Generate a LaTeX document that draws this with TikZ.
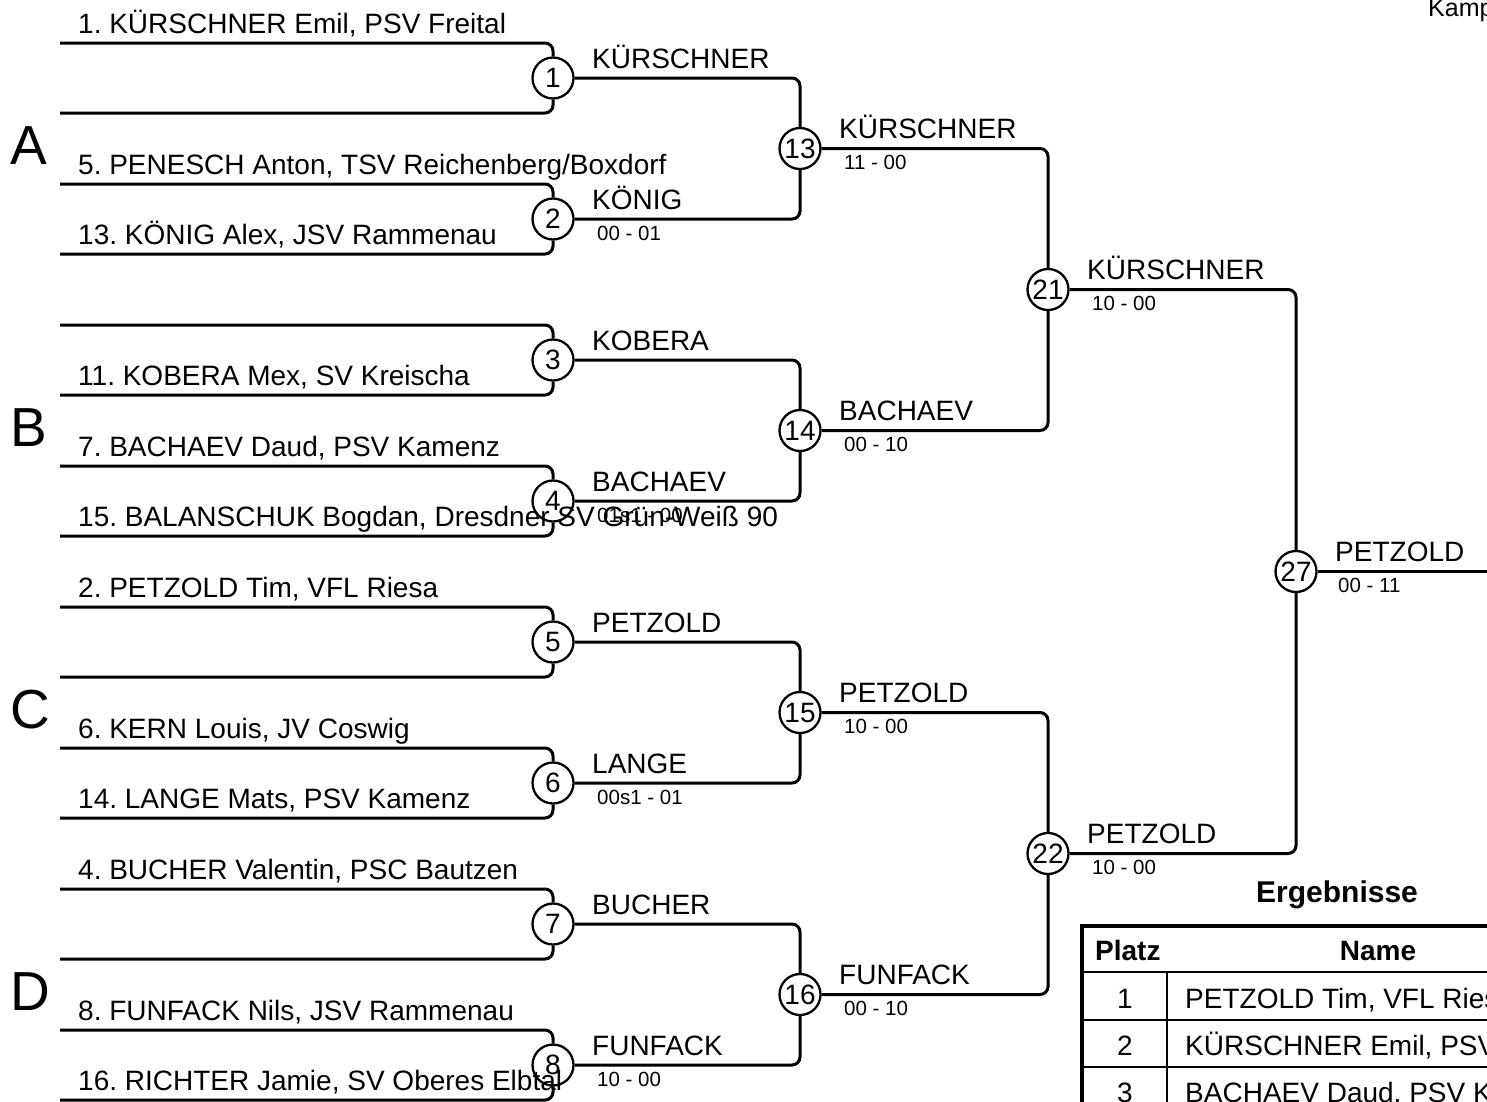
\documentclass[tikz,border=0pt]{standalone}
\usepackage{fontspec}
\setmainfont{Liberation Sans}
\newcommand{\myfs}[1]{\fontsize{#1}{#1}\selectfont}
\frenchspacing
\begin{document}
\begin{tikzpicture}[x=1pt,y=-1pt,
  conn/.style={line width=3pt, rounded corners=8pt},
  bout/.style={circle, draw, line width=2.3pt, minimum size=41pt, inner sep=0pt, font=\myfs{28}},
  pname/.style={anchor=base west, inner sep=0pt, font=\myfs{28}},
  score/.style={anchor=base west, inner sep=0pt, font=\myfs{20.5}},
  grp/.style={anchor=base west, inner sep=0pt, font=\myfs{55}},
  thead/.style={anchor=base, inner sep=0pt, font=\myfs{28}\bfseries},
  tcell/.style={anchor=base west, inner sep=0pt, font=\myfs{28}},
  tnum/.style={anchor=base, inner sep=0pt, font=\myfs{28}},
  thick border/.style={line width=4.5pt},
  thin rule/.style={line width=2pt},
]
\useasboundingbox (0,0) rectangle (1487,1101);
\clip (0,0) rectangle (1487,1101);

% ---- bout circles ----
\node[bout] (m1) at (553,78) {1};
\node[bout] (m2) at (553,219) {2};
\node[bout] (m3) at (553,360) {3};
\node[bout] (m4) at (553,501) {4};
\node[bout] (m5) at (553,642) {5};
\node[bout] (m6) at (553,783) {6};
\node[bout] (m7) at (553,924) {7};
\node[bout] (m8) at (553,1065) {8};
\node[bout] (m13) at (800,148.5) {13};
\node[bout] (m14) at (800,430.5) {14};
\node[bout] (m15) at (800,712.5) {15};
\node[bout] (m16) at (800,994.5) {16};
\node[bout] (m21) at (1048,289.5) {21};
\node[bout] (m22) at (1048,853.5) {22};
\node[bout] (m27) at (1296,571.5) {27};

% ---- player line starts ----
\coordinate (p1a) at (60,43);   \coordinate (p1b) at (60,113);
\coordinate (p2a) at (60,184);  \coordinate (p2b) at (60,254);
\coordinate (p3a) at (60,325);  \coordinate (p3b) at (60,395);
\coordinate (p4a) at (60,466);  \coordinate (p4b) at (60,536);
\coordinate (p5a) at (60,607);  \coordinate (p5b) at (60,677);
\coordinate (p6a) at (60,748);  \coordinate (p6b) at (60,818);
\coordinate (p7a) at (60,889);  \coordinate (p7b) at (60,959);
\coordinate (p8a) at (60,1030); \coordinate (p8b) at (60,1100);
\coordinate (fin) at (1495,571.5);

\foreach \k in {1,...,8}{
  \draw[conn] (p\k a) -| (m\k.north);
  \draw[conn] (p\k b) -| (m\k.south);
}
\draw[conn] (m1.east) -| (m13.north);
\draw[conn] (m2.east) -| (m13.south);
\draw[conn] (m3.east) -| (m14.north);
\draw[conn] (m4.east) -| (m14.south);
\draw[conn] (m5.east) -| (m15.north);
\draw[conn] (m6.east) -| (m15.south);
\draw[conn] (m7.east) -| (m16.north);
\draw[conn] (m8.east) -| (m16.south);
\draw[conn] (m13.east) -| (m21.north);
\draw[conn] (m14.east) -| (m21.south);
\draw[conn] (m15.east) -| (m22.north);
\draw[conn] (m16.east) -| (m22.south);
\draw[conn] (m21.east) -| (m27.north);
\draw[conn] (m22.east) -| (m27.south);
\draw[conn] (m27.east) -- (fin);

% ---- player names ----
\node[pname] (t1a) at (78,33) {1. KÜRSCHNER Emil, PSV Freital};
\node[pname] (t2a) at (78,174) {5. PENESCH Anton, TSV Reichenberg/Boxdorf};
\node[pname] (t2b) at (78,244) {13. KÖNIG Alex, JSV Rammenau};
\node[pname] (t3b) at (78,385) {11. KOBERA Mex, SV Kreischa};
\node[pname] (t4a) at (78,456) {7. BACHAEV Daud, PSV Kamenz};
\node[pname] (t4b) at (78,526) {15. BALANSCHUK Bogdan, Dresdner SV Grün-Weiß 90};
\node[pname] (t5a) at (78,597) {2. PETZOLD Tim, VFL Riesa};
\node[pname] (t6a) at (78,738) {6. KERN Louis, JV Coswig};
\node[pname] (t6b) at (78,808) {14. LANGE Mats, PSV Kamenz};
\node[pname] (t7a) at (78,879) {4. BUCHER Valentin, PSC Bautzen};
\node[pname] (t8a) at (78,1020) {8. FUNFACK Nils, JSV Rammenau};
\node[pname] (t8b) at (78,1090) {16. RICHTER Jamie, SV Oberes Elbtal};

% ---- group letters ----
\node[grp] (gA) at (10,164.5) {A};
\node[grp] (gB) at (10,446.5) {B};
\node[grp] (gC) at (10,728.5) {C};
\node[grp] (gD) at (10,1010.5) {D};

% ---- winners and scores ----
\node[pname] (w1) at (592,68) {KÜRSCHNER};
\node[pname] (w2) at (592,209) {KÖNIG};
\node[score] (s2) at (597,240) {00 - 01};
\node[pname] (w3) at (592,350) {KOBERA};
\node[pname] (w4) at (592,491) {BACHAEV};
\node[score] (s4) at (597,522) {01s1 - 00};
\node[pname] (w5) at (592,632) {PETZOLD};
\node[pname] (w6) at (592,773) {LANGE};
\node[score] (s6) at (597,804) {00s1 - 01};
\node[pname] (w7) at (592,914) {BUCHER};
\node[pname] (w8) at (592,1055) {FUNFACK};
\node[score] (s8) at (597,1086) {10 - 00};

\node[pname] (w13) at (839,138.5) {KÜRSCHNER};
\node[score] (s13) at (844,169.5) {11 - 00};
\node[pname] (w14) at (839,420.5) {BACHAEV};
\node[score] (s14) at (844,451.5) {00 - 10};
\node[pname] (w15) at (839,702.5) {PETZOLD};
\node[score] (s15) at (844,733.5) {10 - 00};
\node[pname] (w16) at (839,984.5) {FUNFACK};
\node[score] (s16) at (844,1015.5) {00 - 10};

\node[pname] (w21) at (1087,279.5) {KÜRSCHNER};
\node[score] (s21) at (1092,310.5) {10 - 00};
\node[pname] (w22) at (1087,843.5) {PETZOLD};
\node[score] (s22) at (1092,874.5) {10 - 00};

\node[pname] (w27) at (1335,561.5) {PETZOLD};
\node[score] (s27) at (1338,592.5) {00 - 11};

% ---- top right ----
\node[anchor=base west, inner sep=0pt, font=\myfs{25}] (kamp) at (1428,16) {Kamp};

% ---- results table ----
\node[anchor=base, inner sep=0pt, font=\myfs{30}\bfseries] (title) at (1337,902) {Ergebnisse};
\draw[thin rule] (1082,972) -- (1620,972);
\draw[thin rule] (1082,1020) -- (1620,1020);
\draw[thin rule] (1082,1067) -- (1620,1067);
\draw[thin rule] (1167,972) -- (1167,1130);
\draw[thick border] (1082,926) rectangle (1600,1140);
\node[tcell, font=\myfs{28}\bfseries] (hplatz) at (1095,960) {Platz};
\node[thead] (hname) at (1378,960) {Name};
\node[tnum] (r1n) at (1125,1008) {1};
\node[tcell] (r1t) at (1185,1008) {PETZOLD Tim, VFL Riesa};
\node[tnum] (r2n) at (1125,1055) {2};
\node[tcell] (r2t) at (1185,1055) {KÜRSCHNER Emil, PSV Freital};
\node[tnum] (r3n) at (1125,1102) {3};
\node[tcell] (r3t) at (1185,1102) {BACHAEV Daud, PSV Kamenz};
\end{tikzpicture}
\end{document}
